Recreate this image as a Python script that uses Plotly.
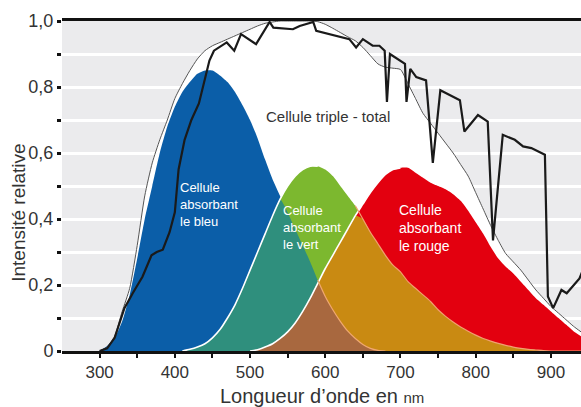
import plotly.graph_objects as go
import numpy as np

# ---------------- data ----------------
wavelength = list(range(300, 950, 10))  # 300 .. 940 nm

blue_cell = [0.0, 0.015, 0.04, 0.09, 0.17, 0.28, 0.40, 0.50, 0.60, 0.68,
             0.74, 0.785, 0.815, 0.84, 0.85, 0.85, 0.835, 0.815, 0.785, 0.745,
             0.70, 0.645, 0.58, 0.52, 0.47, 0.42, 0.37, 0.32, 0.27, 0.215,
             0.165, 0.125, 0.09, 0.06, 0.038, 0.02, 0.008, 0.002] + [0.0] * 27

green_cell = [0.0] * 12 + [0.005, 0.012, 0.022, 0.04, 0.065, 0.10, 0.14, 0.19,
              0.245, 0.30, 0.355, 0.41, 0.46, 0.50, 0.53, 0.55, 0.56, 0.56,
              0.55, 0.53, 0.50, 0.47, 0.44, 0.40, 0.36, 0.325, 0.29, 0.26,
              0.24, 0.21, 0.19, 0.17, 0.15, 0.125, 0.105, 0.088, 0.073, 0.06,
              0.048, 0.038, 0.03, 0.023, 0.017, 0.012, 0.008, 0.005, 0.003, 0.001,
              0.0, 0.0, 0.0, 0.0, 0.0]

red_cell = [0.0] * 21 + [0.004, 0.012, 0.022, 0.038, 0.058, 0.085, 0.12, 0.16,
            0.205, 0.25, 0.29, 0.33, 0.37, 0.41, 0.445, 0.48, 0.51, 0.535,
            0.55, 0.555, 0.555, 0.54, 0.525, 0.51, 0.50, 0.49, 0.475, 0.455,
            0.425, 0.39, 0.355, 0.315, 0.28, 0.255, 0.235, 0.21, 0.185, 0.16,
            0.14, 0.12, 0.10, 0.08, 0.06, 0.045]

total_cell = [0.0, 0.012, 0.045, 0.12, 0.19, 0.32, 0.47, 0.57, 0.64, 0.70,
              0.765, 0.81, 0.85, 0.885, 0.91, 0.925, 0.935, 0.945, 0.955, 0.965,
              0.975, 0.985, 0.993, 0.997, 1.0, 1.0, 1.0, 1.0, 1.0, 0.998,
              0.99, 0.978, 0.965, 0.952, 0.94, 0.92, 0.895, 0.87, 0.86, 0.857,
              0.853, 0.81, 0.765, 0.72, 0.69, 0.66, 0.63, 0.60, 0.565, 0.53,
              0.48, 0.43, 0.38, 0.335, 0.295, 0.27, 0.245, 0.215, 0.185, 0.16,
              0.135, 0.115, 0.095, 0.075, 0.058]

solar_x = [300, 310, 320, 333, 344, 357, 369, 376, 384, 393, 400, 405, 413, 422,
           432, 440, 446, 452, 469, 479, 488, 508, 526, 531, 557, 566, 584, 588,
           608, 632, 641, 650, 663, 672, 679, 682, 686, 706, 708, 713, 721, 734,
           743, 753, 779, 785, 803, 816, 823, 836, 852, 863, 874, 892, 896, 903,
           914, 921, 938, 945]
solar_y = [0.0, 0.008, 0.04, 0.13, 0.175, 0.225, 0.29, 0.30, 0.307, 0.36, 0.42,
           0.55, 0.64, 0.70, 0.75, 0.82, 0.88, 0.91, 0.935, 0.91, 0.96, 0.93,
           0.997, 0.98, 0.975, 0.985, 0.997, 0.97, 0.958, 0.945, 0.92, 0.945,
           0.925, 0.925, 0.91, 0.755, 0.90, 0.87, 0.755, 0.855, 0.83, 0.82, 0.57,
           0.79, 0.76, 0.665, 0.715, 0.695, 0.335, 0.655, 0.64, 0.62, 0.615,
           0.595, 0.165, 0.13, 0.185, 0.175, 0.22, 0.26]

x_ticks = list(range(300, 950, 50))
x_ticklabels = [str(v) if v % 100 == 0 else "" for v in x_ticks]
y_ticks = [round(0.1 * i, 1) for i in range(11)]
y_ticklabels = ["0", "", "0,2", "", "0,4", "", "0,6", "", "0,8", "", "1,0"]

# ---------------- figure ----------------
wl = np.array(wavelength)
B = np.array(blue_cell)
G = np.array(green_cell)
R = np.array(red_cell)

FONT = "Arial, Liberation Sans, sans-serif"
fig = go.Figure()


def area(y, color):
    fig.add_trace(go.Scatter(x=wl, y=y, mode="lines", fill="tozeroy",
                             fillcolor=color, line=dict(width=0, color=color,
                             shape="spline", smoothing=0.6),
                             hoverinfo="skip"))


def edge(lo, hi, y, color, width=1.6):
    m = (wl >= lo) & (wl <= hi)
    fig.add_trace(go.Scatter(x=wl[m], y=np.asarray(y)[m], mode="lines",
                             line=dict(color=color, width=width, shape="spline",
                                       smoothing=0.6), hoverinfo="skip"))


area(np.array(total_cell), "white")
area(B, "#0b5ea8")
area(G, "#7cb82f")
area(R, "#e3000f")
area(np.minimum(B, G), "#2f8f7d")
area(np.minimum(G, R), "#c98a12")
area(np.minimum(B, R), "#a8683f")

edge(410, 590, G, "white")
edge(500, 700, R, "white")
edge(590, 680, B, "#f0a870", 1.2)
edge(640, 940, G, "#f0a070", 1.2)

fig.add_trace(go.Scatter(x=wl, y=total_cell, mode="lines",
                         line=dict(color="#555555", width=1, shape="spline",
                                   smoothing=0.6), hoverinfo="skip"))
fig.add_trace(go.Scatter(x=solar_x, y=solar_y, mode="lines",
                         line=dict(color="#1a1a1a", width=2.2), hoverinfo="skip"))

# texts
fig.add_annotation(x=603, y=0.711, text="Cellule triple - total", showarrow=False,
                   font=dict(family=FONT, size=15, color="#333333"))
fig.add_annotation(x=404, y=0.444, text="Cellule<br>absorbant<br>le bleu",
                   showarrow=False, xanchor="left", align="left",
                   font=dict(family=FONT, size=13, color="white"))
fig.add_annotation(x=541, y=0.374, text="Cellule<br>absorbant<br>le vert",
                   showarrow=False, xanchor="left", align="left",
                   font=dict(family=FONT, size=13, color="white"))
fig.add_annotation(x=695, y=0.374, text="Cellule<br>absorbant<br>le rouge",
                   showarrow=False, xanchor="left", align="left",
                   font=dict(family=FONT, size=14, color="white"))

# axis titles
fig.add_annotation(xref="paper", yref="paper", x=-0.084, y=0.42,
                   xanchor="center", yanchor="middle",
                   text="Intensité relative", textangle=-90, showarrow=False,
                   font=dict(family=FONT, size=19, color="#333333"))
fig.add_annotation(xref="paper", yref="paper", x=0.5, y=-0.136,
                   xanchor="center", yanchor="middle",
                   text="Longueur d’onde en <span style='font-size:15px'>nm</span>",
                   showarrow=False, font=dict(family=FONT, size=20, color="#333333"))

fig.update_layout(
    width=581, height=407,
    margin=dict(l=62, r=0, t=21, b=56, autoexpand=False),
    paper_bgcolor="white", plot_bgcolor="#ebebed",
    showlegend=False,
    xaxis=dict(range=[250, 940], tickvals=x_ticks, ticktext=x_ticklabels,
               ticks="outside", ticklen=4, tickwidth=2, tickcolor="#111111",
               showline=True, linecolor="#111111", linewidth=3, mirror=True,
               showgrid=False, zeroline=False, automargin=False,
               ticklabelstandoff=0,
               tickfont=dict(family=FONT, size=17, color="#333333")),
    yaxis=dict(range=[0, 1], tickvals=y_ticks, ticktext=y_ticklabels,
               ticks="outside", ticklen=4, tickwidth=3, tickcolor="#111111",
               showgrid=True, gridcolor="white", gridwidth=3,
               zeroline=False, showline=False, automargin=False,
               tickfont=dict(family=FONT, size=18, color="#333333")),
)

fig.write_html(
    "out.html",
    config={"displayModeBar": False},
    post_script="document.body.style.margin='0';document.body.style.padding='0';"
                "document.body.style.overflow='hidden';",
)
